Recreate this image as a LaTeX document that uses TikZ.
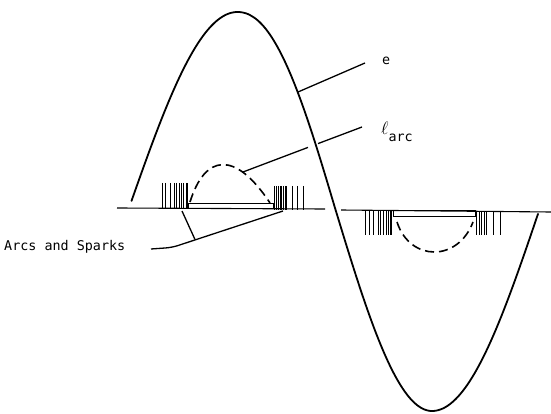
\documentclass[tikz,border=0pt]{standalone}
\usepackage{fontspec}
\setmonofont{DejaVu Sans Mono}
\begin{document}
\begin{tikzpicture}[x=1pt,y=-1pt,
  wave/.style={line width=1.8pt, line join=round, line cap=round},
  axisline/.style={line width=1.1pt},
  leader/.style={line width=1.3pt},
  arcline/.style={line width=1.6pt, dash pattern=on 9pt off 5pt},
  spark/.style={line width=0.8pt},
  electrode/.style={line width=1pt},
  lbl/.style={inner sep=0pt, font=\ttfamily\fontsize{13.4}{16}\selectfont}]
\useasboundingbox (0,0) rectangle (551,414);

% axis
\draw[axisline] (117,208) -- (325,209);
\draw[axisline] (341,210) -- (551,212);

% voltage wave e
\draw[wave]
  plot[domain=131.5:237.5, samples=50] (\x,{208-196*sin(90*(\x-129)/108.5)})
  -- plot[domain=237.6:335, samples=50] (\x,{208-196*cos(90*((\x-237.4)/97.6)^1.07)})
  -- plot[domain=335:432, samples=50] (\x,{208+203*sin(90*(\x-335)/97)})
  -- plot[domain=432:538, samples=50] (\x,{208+203*cos(90*(\x-432)/108)});

% electrodes
\draw[electrode] (188,203) rectangle (273,208.5);
\draw[electrode] (393,210.5) rectangle (475,216.5);

% sparks
\foreach \x in {162.3,165.7,170,174,176.7,179,181,183.3,186,187.3}
  \draw[spark] (\x,183) -- (\x,209);
\foreach \x in {274.3,276.7,278.3,280,281.7,283.3,285,286.7,292.7,297.7,303.3}
  \draw[spark] (\x,186) -- (\x,210);
\foreach \x in {365,369.3,373.3,378.3,380.7,383.3,386,388.3,390,391.7}
  \draw[spark] (\x,211) -- (\x,235);
\foreach \x in {476.7,479.3,481.7,484,486.7,493.3,500}
  \draw[spark] (\x,212) -- (\x,235);

% arcs
\draw[arcline] (190,202) .. controls (205,154) and (235,150) .. (270,203);
\draw[arcline] (397,222) .. controls (410,262) and (458,262) .. (473,222);

% labels
\node[lbl, anchor=base west] (lab-e) at (382,65) {e};
\node[lbl, anchor=base west] (lab-l) at (381,135) {\scalebox{1.25}{$\ell$}\raisebox{-7pt}{arc}};
\node[lbl, anchor=base west] (lab-arcs) at (4,250) {Arcs and Sparks};

% leaders
\coordinate (e-on) at (298,92);
\coordinate (e-end) at (365,63);
\draw[leader] (e-on) -- (e-end);

\coordinate (l-on) at (243,172);
\coordinate (l-gap1) at (308,147.4);
\coordinate (l-gap2) at (318,143.6);
\coordinate (l-end) at (362,127);
\draw[leader] (l-on) -- (l-gap1);
\draw[leader] (l-gap2) -- (l-end);

\coordinate (a-start) at (151,249);
\coordinate (a-bend) at (172,247.5);
\coordinate (a-right) at (283,211);
\coordinate (a-join) at (195,239.5);
\coordinate (a-left) at (182,211);
\draw[leader, rounded corners=6pt] (a-start) -- (a-bend) -- (a-right);
\draw[leader] (a-left) -- (a-join);
\end{tikzpicture}
\end{document}
